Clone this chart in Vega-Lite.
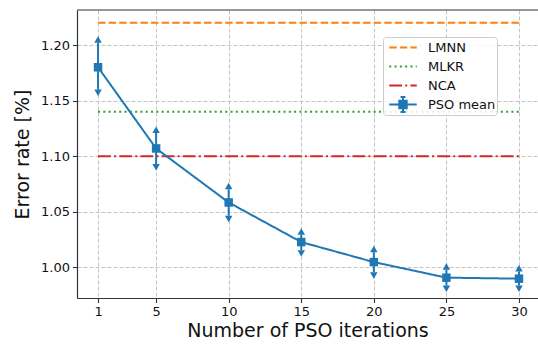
{
  "$schema": "https://vega.github.io/schema/vega-lite/v6.json",
  "width": 461,
  "height": 288,
  "autosize": "none",
  "padding": {"left": 77, "top": 10, "right": 0, "bottom": 49},
  "config": {
    "font": "DejaVu Sans",
    "view": {"stroke": null},
    "axis": {
      "grid": true,
      "gridColor": "#c4c4c4",
      "gridDash": [4, 2],
      "gridWidth": 1,
      "domain": true,
      "domainColor": "#333333",
      "domainWidth": 1.2,
      "tickColor": "#333333",
      "tickSize": 4.5,
      "tickWidth": 1.1,
      "labelFont": "DejaVu Sans",
      "labelFontSize": 13,
      "labelColor": "#111111",
      "titleFont": "DejaVu Sans",
      "titleFontSize": 19,
      "titleFontWeight": "normal",
      "titleColor": "#111111"
    }
  },
  "data": {
    "values": [
      {"method": "LMNN", "iter": 1, "rate": 1.22},
      {"method": "LMNN", "iter": 30, "rate": 1.22},
      {"method": "MLKR", "iter": 1, "rate": 1.14},
      {"method": "MLKR", "iter": 30, "rate": 1.14},
      {"method": "NCA", "iter": 1, "rate": 1.10},
      {"method": "NCA", "iter": 30, "rate": 1.10},
      {"method": "PSO mean", "iter": 1, "rate": 1.180, "lo": 1.160, "hi": 1.202},
      {"method": "PSO mean", "iter": 5, "rate": 1.107, "lo": 1.093, "hi": 1.121},
      {"method": "PSO mean", "iter": 10, "rate": 1.0584, "lo": 1.0465, "hi": 1.0703},
      {"method": "PSO mean", "iter": 15, "rate": 1.0228, "lo": 1.0155, "hi": 1.0295},
      {"method": "PSO mean", "iter": 20, "rate": 1.0048, "lo": 0.9957, "hi": 1.0137},
      {"method": "PSO mean", "iter": 25, "rate": 0.9908, "lo": 0.9837, "hi": 0.9980},
      {"method": "PSO mean", "iter": 30, "rate": 0.9899, "lo": 0.9837, "hi": 0.9963}
    ]
  },
  "encoding": {
    "x": {
      "field": "iter",
      "type": "quantitative",
      "scale": {"domain": [-0.45, 31.31], "nice": false, "zero": false},
      "axis": {
        "values": [1, 5, 10, 15, 20, 25, 30],
        "title": "Number of PSO iterations",
        "labelPadding": 3,
        "titlePadding": 3
      }
    },
    "y": {
      "field": "rate",
      "type": "quantitative",
      "scale": {"domain": [0.9725, 1.2315], "nice": false, "zero": false},
      "axis": {
        "values": [1.0, 1.05, 1.1, 1.15, 1.2],
        "format": ".2f",
        "title": "Error rate [%]",
        "labelPadding": 3,
        "titlePadding": 8
      }
    }
  },
  "layer": [
    {
      "data": {"values": [{"top": 1.2315}]},
      "mark": {"type": "rule", "color": "#333333", "strokeWidth": 1.2},
      "encoding": {
        "x": null,
        "y": {"field": "top", "type": "quantitative"}
      }
    },
    {
      "mark": {"type": "line", "strokeWidth": 2},
      "encoding": {
        "detail": {"field": "method"},
        "color": {
          "field": "method",
          "type": "nominal",
          "scale": {
            "domain": ["LMNN", "MLKR", "NCA", "PSO mean"],
            "range": ["#ff7f0e", "#2ca02c", "#d62728", "#1f77b4"]
          },
          "legend": {
            "title": null,
            "orient": "none",
            "legendX": 306,
            "legendY": 27,
            "padding": 1,
            "fillColor": "rgba(255,255,255,0.85)",
            "strokeColor": "#cccccc",
            "cornerRadius": 3,
            "symbolType": "stroke",
            "symbolSize": 756,
            "symbolStrokeWidth": 2,
            "symbolOffset": 4,
            "labelOffset": 10,
            "labelFont": "DejaVu Sans",
            "labelFontSize": 13,
            "labelColor": "#111111",
            "clipHeight": 19,
            "rowPadding": 0,
            "labelLimit": 200,
            "encode": {
              "symbols": {
                "update": {
                  "shape": {"signal": "datum.value === 'PSO mean' ? 'M-1,0H1M-0.27,-0.27H0.27V0.27H-0.27ZM0,-0.55V0.55M-0.18,-0.55H0.18M-0.18,0.55H0.18' : 'stroke'"},
                  "fill": {"signal": "datum.value === 'PSO mean' ? '#1f77b4' : 'transparent'"}
                }
              }
            }
          }
        },
        "strokeDash": {
          "field": "method",
          "type": "nominal",
          "scale": {
            "domain": ["LMNN", "MLKR", "NCA", "PSO mean"],
            "range": [[7.4, 3.2], [2, 3.3], [12.8, 3.2, 2, 3.2], [1, 0]]
          },
          "legend": null
        }
      }
    },
    {
      "transform": [{"filter": "datum.method === 'PSO mean'"}],
      "mark": {"type": "rule", "color": "#1f77b4", "strokeWidth": 2},
      "encoding": {"y": {"field": "lo", "type": "quantitative"}, "y2": {"field": "hi"}}
    },
    {
      "transform": [{"filter": "datum.method === 'PSO mean'"}],
      "mark": {"type": "point", "shape": "triangle-up", "filled": true, "color": "#1f77b4", "size": 56, "opacity": 1, "yOffset": -3.2},
      "encoding": {"y": {"field": "hi", "type": "quantitative"}}
    },
    {
      "transform": [{"filter": "datum.method === 'PSO mean'"}],
      "mark": {"type": "point", "shape": "triangle-down", "filled": true, "color": "#1f77b4", "size": 56, "opacity": 1, "yOffset": 3.2},
      "encoding": {"y": {"field": "lo", "type": "quantitative"}}
    },
    {
      "transform": [{"filter": "datum.method === 'PSO mean'"}],
      "mark": {"type": "point", "shape": "square", "filled": true, "color": "#1f77b4", "size": 72, "opacity": 1},
      "encoding": {}
    }
  ]
}
